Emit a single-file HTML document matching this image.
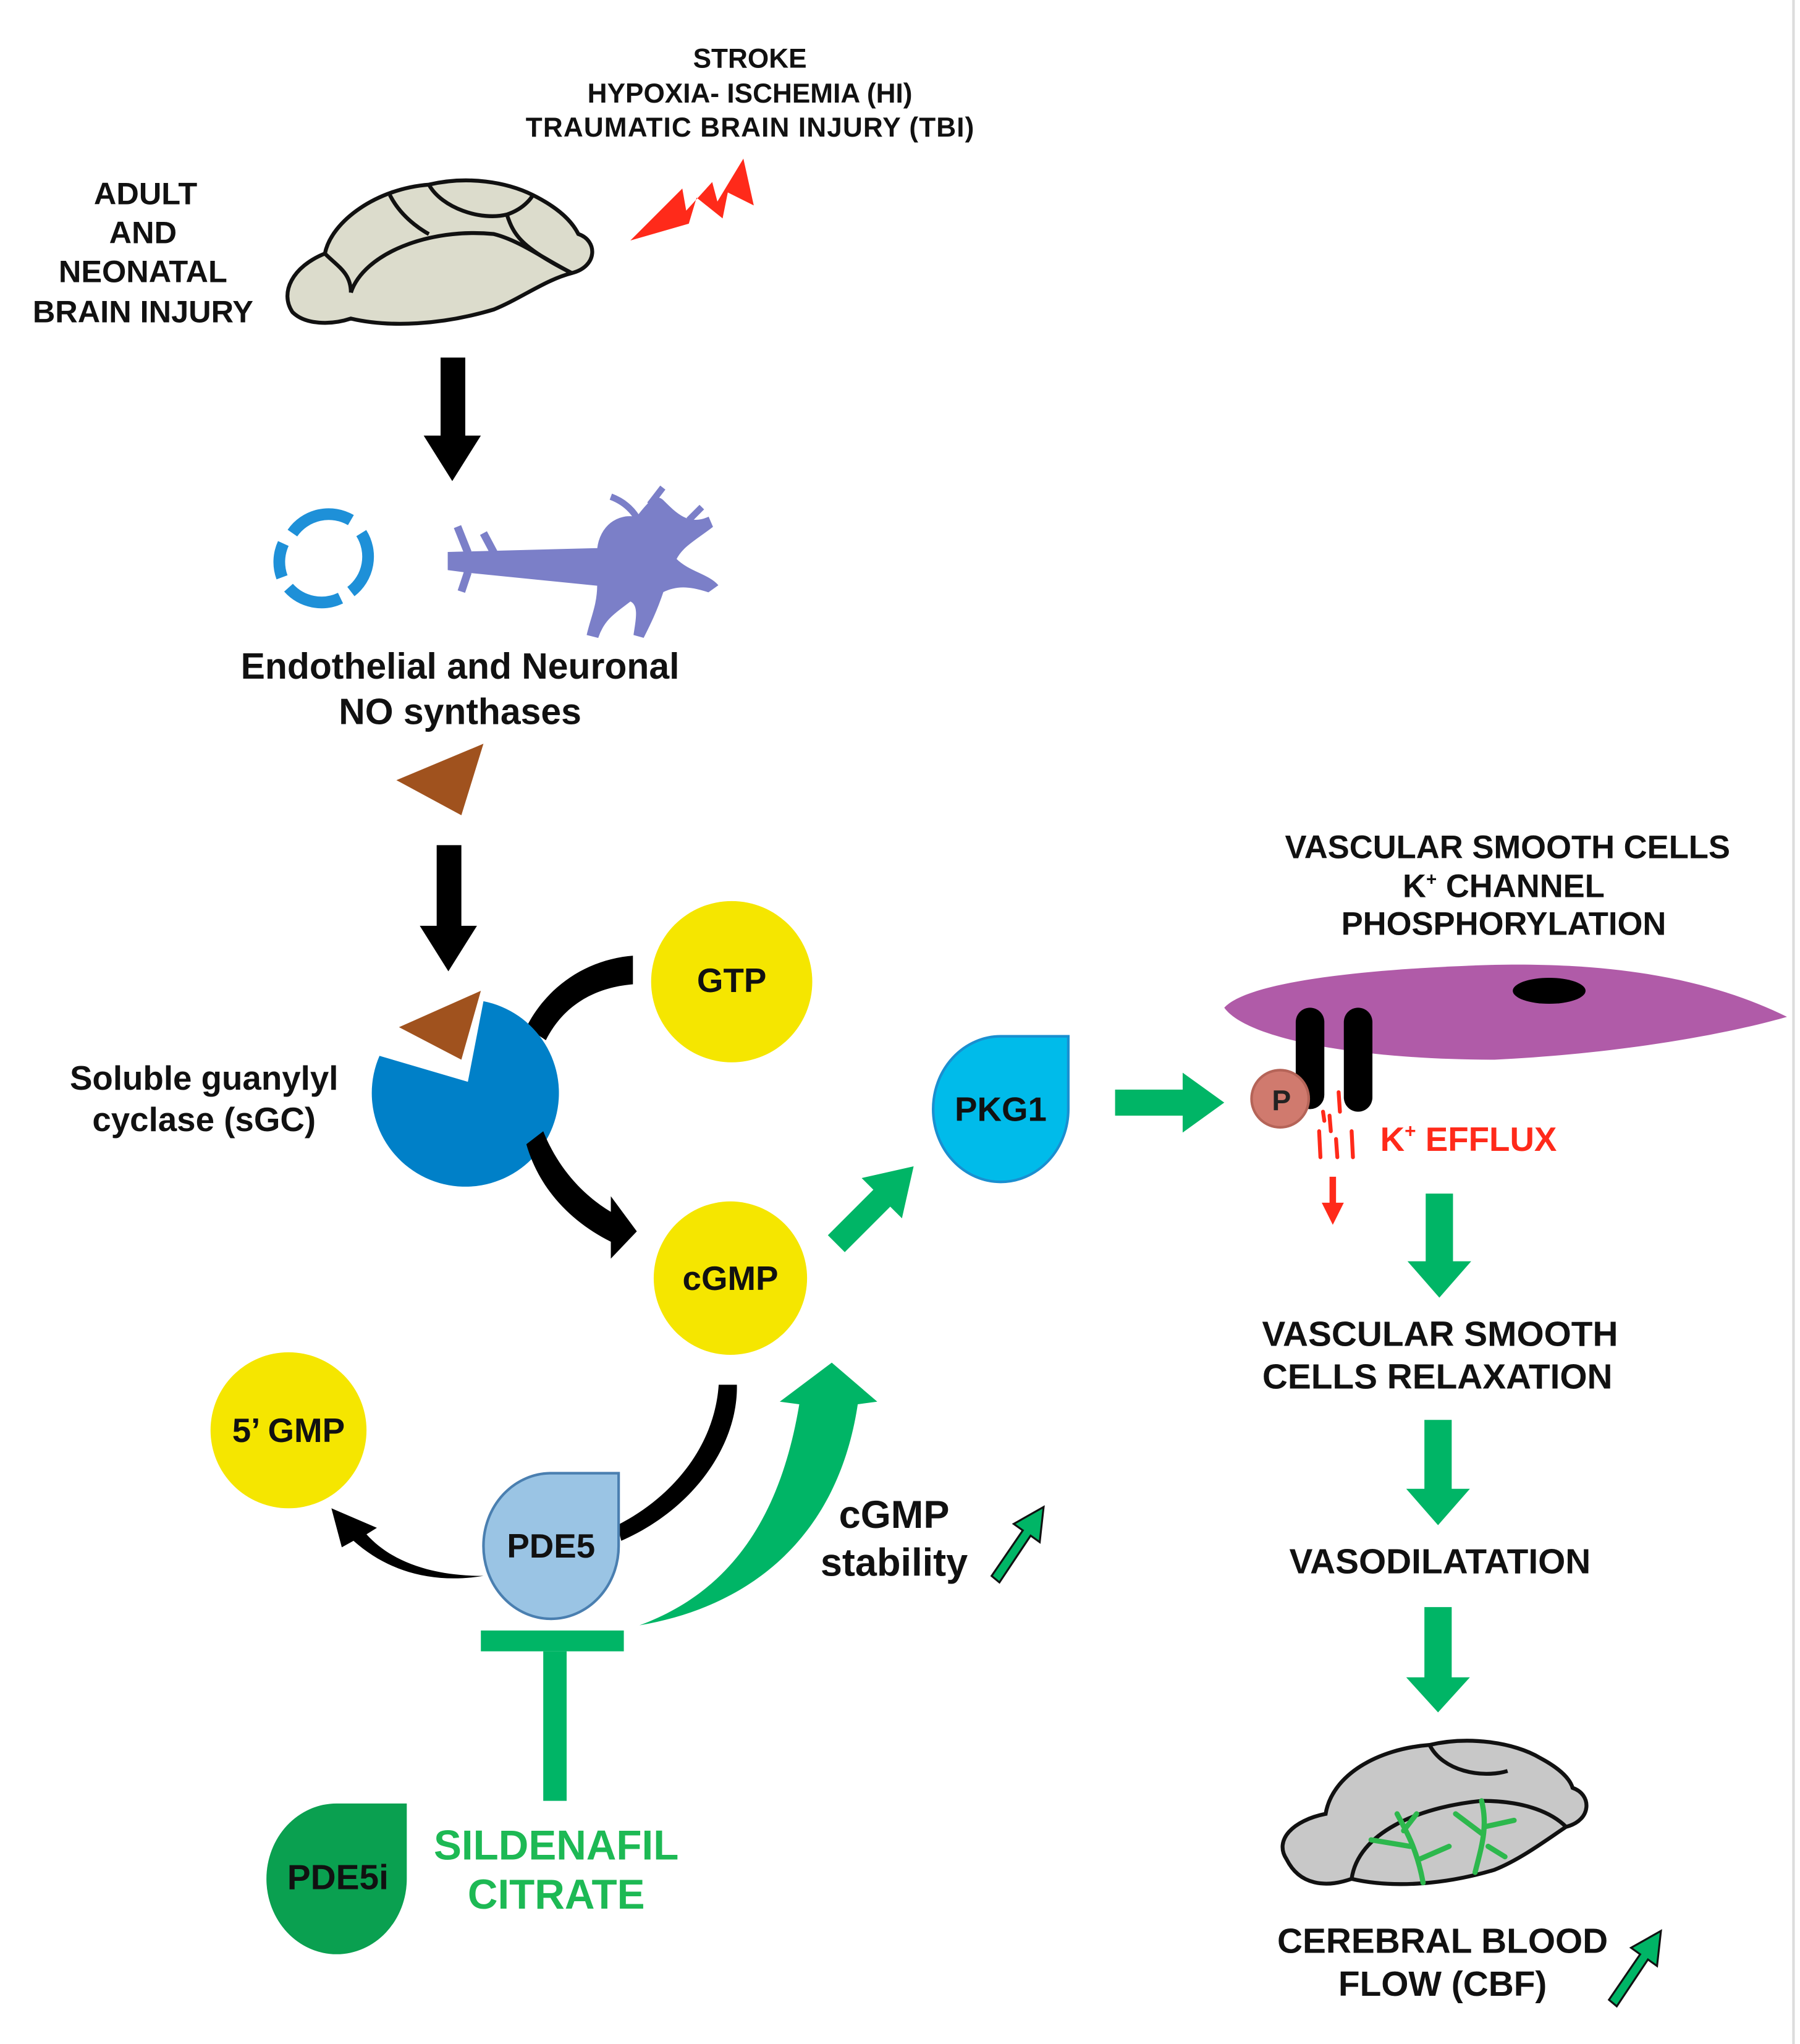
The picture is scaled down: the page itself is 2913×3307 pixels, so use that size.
<!DOCTYPE html>
<html><head><meta charset="utf-8"><style>
html,body{margin:0;padding:0;background:#fff;}
svg{display:block;}
text{font-family:"Liberation Sans",Arial,sans-serif;font-weight:bold;}
</style></head><body>
<svg width="2913" height="3307" viewBox="0 0 1385 1572" preserveAspectRatio="none" xmlns="http://www.w3.org/2000/svg">
<rect width="1385" height="1572" fill="#fff"/>
<line x1="1380" y1="0" x2="1380" y2="1572" stroke="#ddd" stroke-width="2"/>
<g font-size="21" text-anchor="middle" fill="#111">
<text x="577" y="52">STROKE</text>
<text x="577" y="79">HYPOXIA- ISCHEMIA (HI)</text>
<text x="577" y="105" textLength="345">TRAUMATIC BRAIN INJURY (TBI)</text>
</g>
<g font-size="24" text-anchor="middle" fill="#111">
<text x="112" y="157">ADULT</text>
<text x="110" y="187">AND</text>
<text x="110" y="217">NEONATAL</text>
<text x="110" y="248">BRAIN INJURY</text>
</g>
<g fill="#dcdccc" stroke="#111" stroke-width="3">
<path d="M225,240 C215,225 225,205 250,195 C255,170 290,145 330,142 C360,135 390,140 410,150 C430,160 440,170 445,180 C460,185 460,205 440,210 C420,215 400,230 380,238 C340,250 300,252 270,245 C255,250 235,250 225,240 Z"/>
<path d="M250,195 C260,205 270,210 270,225" fill="none"/>
<path d="M270,225 C280,195 330,175 380,180 C400,185 420,200 440,210" fill="none"/>
<path d="M330,142 C340,160 370,170 390,165 C405,160 410,150 410,150" fill="none"/>
<path d="M390,165 C395,180 400,190 440,210" fill="none"/>
<path d="M300,150 C310,170 330,180 330,180" fill="none"/>
</g>
<path d="M485,185 L525,145 L528,162 L548,140 L552,155 L572,122 L580,158 L560,148 L556,168 L536,152 L530,172 Z" fill="#ff2a1a"/>
<path d="M339,275 H358 V335 H370 L348,370 L326,335 H339 Z" fill="#000"/>
<g fill="none" stroke="#1e90d8" stroke-width="9">
<path d="M225,410 A34,34 0 0 1 270,400"/>
<path d="M278,410 A34,34 0 0 1 270,455"/>
<path d="M262,460 A34,34 0 0 1 222,452"/>
<path d="M217,444 A34,34 0 0 1 218,418"/>
</g>
<g fill="#7b7fc8" stroke="#7b7fc8">
<path d="M345,425 L460,422 C462,405 475,395 490,398 C500,385 505,380 510,385 C520,395 530,405 545,398 L548,405 C535,415 525,420 520,430 C530,440 545,442 552,450 L545,455 C530,450 520,450 510,455 C505,470 500,480 495,490 L488,488 C490,475 492,465 485,462 C475,470 465,475 460,490 L452,488 C455,475 460,465 460,450 L360,440 L345,438 Z"/>
<path d="M360,425 L352,405 M380,425 L372,410 M360,440 L355,455" stroke-width="6" fill="none"/>
<path d="M490,398 C485,390 478,385 470,382 M500,388 L510,375 M530,400 L540,390" stroke-width="5" fill="none"/>
</g>
<g font-size="28" text-anchor="middle" fill="#111">
<text x="354" y="522">Endothelial and Neuronal</text>
<text x="354" y="557">NO synthases</text>
</g>
<path d="M305,600 L372,572 L355,627 Z" fill="#a0521e"/>
<path d="M336,650 H355 V712 H367 L345,747 L323,712 H336 Z" fill="#000"/>
<path d="M487,735 L487,757 C450,760 430,780 420,800 L405,790 C420,760 450,738 487,735 Z" fill="#000"/>
<path d="M360,832 L372,770 A72,72 0 1 1 292,812 Z" fill="#0080c8"/>
<path d="M307,790 L370,762 L355,815 Z" fill="#a0521e"/>
<path d="M405,880 L418,870 C430,900 450,920 470,932 L470,920 L490,947 L470,968 L470,955 C440,940 415,915 405,880 Z" fill="#000"/>
<g font-size="26" text-anchor="middle" fill="#111">
<text x="157" y="838">Soluble guanylyl</text>
<text x="157" y="870">cyclase (sGC)</text>
</g>
<circle cx="563" cy="755" r="62" fill="#f5e600"/>
<circle cx="562" cy="983" r="59" fill="#f5e600"/>
<circle cx="222" cy="1100" r="60" fill="#f5e600"/>
<g font-size="26" text-anchor="middle" fill="#111">
<text x="563" y="763">GTP</text>
<text x="562" y="992">cGMP</text>
<text x="222" y="1109">5’ GMP</text>
</g>
<path d="M718,853 A52,56 0 0 1 770,797 L822,797 L822,853 A52,56 0 0 1 718,853 Z" fill="#00bbea" stroke="#1a8fd0" stroke-width="2"/>
<text x="770" y="862" font-size="26" text-anchor="middle" fill="#111">PKG1</text>
<path d="M637,950 L672,915 L663,906 L703,897 L694,937 L685,928 L650,963 Z" fill="#00b566"/>
<path d="M858,838 H910 V825 L942,848 L910,871 V858 H858 Z" fill="#00b566"/>
<path d="M942,775 C960,755 1050,745 1150,742 C1250,740 1320,755 1375,782 C1330,795 1250,810 1150,815 C1050,815 960,800 942,775 Z" fill="#b05ba8"/>
<ellipse cx="1192" cy="762" rx="28" ry="10" fill="#000"/>
<rect x="997" y="775" width="22" height="78" rx="11" fill="#000"/>
<rect x="1034" y="775" width="22" height="80" rx="11" fill="#000"/>
<circle cx="985" cy="845" r="22" fill="#d07a6e" stroke="#b56458" stroke-width="2"/>
<text x="986" y="854" font-size="22" text-anchor="middle" fill="#222" font-weight="normal">P</text>
<g stroke="#ff2a1a" stroke-width="3" stroke-linecap="round">
<line x1="1015" y1="870" x2="1016" y2="890"/><line x1="1023" y1="858" x2="1024" y2="870"/>
<line x1="1030" y1="840" x2="1031" y2="855"/><line x1="1028" y1="876" x2="1029" y2="890"/>
<line x1="1040" y1="870" x2="1041" y2="890"/><line x1="1018" y1="855" x2="1019" y2="862"/>
</g>
<path d="M1023,905 H1028 V925 H1034 L1025.5,942 L1017,925 H1023 Z" fill="#ff2a1a"/>
<text x="1062" y="885" font-size="26" fill="#ff2a1a">K<tspan font-size="15" dy="-10">+</tspan><tspan dy="10"> EFFLUX</tspan></text>
<g font-size="25" text-anchor="middle" fill="#111">
<text x="1160" y="660">VASCULAR SMOOTH CELLS</text>
<text x="1157" y="690">K<tspan font-size="14" dy="-9">+</tspan><tspan dy="9"> CHANNEL</tspan></text>
<text x="1157" y="719">PHOSPHORYLATION</text>
</g>
<g fill="#00b566">
<path d="M1097,918 H1118 V970 H1132 L1107.5,998 L1083,970 H1097 Z"/>
<path d="M1096,1092 H1117 V1145 H1131 L1106.5,1173 L1082,1145 H1096 Z"/>
<path d="M1096,1236 H1117 V1290 H1131 L1106.5,1317 L1082,1290 H1096 Z"/>
</g>
<g font-size="27" text-anchor="middle" fill="#111">
<text x="1108" y="1035">VASCULAR SMOOTH</text>
<text x="1106" y="1068">CELLS RELAXATION</text>
<text x="1108" y="1210">VASODILATATION</text>
<text x="1110" y="1502">CEREBRAL BLOOD</text>
<text x="1110" y="1535">FLOW (CBF)</text>
</g>
<g fill="#c8c8c8" stroke="#111" stroke-width="3">
<path d="M990,1430 C980,1415 995,1400 1020,1395 C1025,1365 1060,1345 1100,1342 C1130,1335 1165,1340 1185,1352 C1200,1360 1208,1368 1210,1375 C1225,1380 1225,1400 1205,1405 C1190,1415 1170,1430 1150,1438 C1110,1450 1070,1452 1040,1445 C1020,1452 1000,1450 990,1430 Z"/>
<path d="M1040,1445 C1045,1410 1090,1390 1140,1385 C1175,1385 1195,1395 1205,1405" fill="none"/>
<path d="M1100,1342 C1110,1362 1140,1368 1160,1362" fill="none"/>
</g>
<g stroke="#2db84d" stroke-width="4" fill="none" stroke-linecap="round">
<path d="M1095,1448 C1090,1420 1080,1405 1075,1395 M1085,1420 L1055,1415 M1092,1430 L1115,1420 M1080,1408 L1090,1395"/>
<path d="M1135,1440 C1140,1420 1145,1405 1140,1385 M1140,1410 L1120,1395 M1142,1405 L1165,1400 M1145,1420 L1158,1428"/>
</g>
<path d="M1238,1538 L1262,1503 L1255,1498 L1278,1485 L1275,1512 L1268,1507 L1244,1543 Z" fill="#00b566" stroke="#111" stroke-width="1.5"/>
<path d="M763,1212 L787,1177 L780,1172 L803,1159 L800,1186 L793,1181 L769,1217 Z" fill="#00b566" stroke="#111" stroke-width="1.5"/>
<path d="M553,1065 L567,1065 C568,1110 535,1160 478,1185 L475,1173 C520,1150 550,1110 553,1065 Z" fill="#000"/>
<path d="M372,1212 C330,1212 300,1200 282,1180 L290,1175 L255,1160 L263,1190 L272,1185 C300,1210 335,1218 372,1212 Z" fill="#000"/>
<path d="M372,1189 A52,56 0 0 1 424,1133 L476,1133 L476,1189 A52,56 0 0 1 372,1189 Z" fill="#9ac4e4" stroke="#4a7fb0" stroke-width="2"/>
<text x="424" y="1198" font-size="26" text-anchor="middle" fill="#111">PDE5</text>
<rect x="370" y="1254" width="110" height="16" fill="#00b566"/>
<rect x="418" y="1270" width="18" height="115" fill="#00b566"/>
<path d="M492,1250 C560,1225 600,1170 615,1080 L600,1078 L640,1048 L675,1078 L660,1080 C645,1180 580,1235 492,1250 Z" fill="#00b566"/>
<g font-size="30" text-anchor="middle" fill="#111">
<text x="688" y="1175">cGMP</text>
<text x="688" y="1212">stability</text>
</g>
<path d="M205,1445 A54,58 0 0 1 259,1387 L313,1387 L313,1445 A54,58 0 0 1 205,1445 Z" fill="#0aa050"/>
<text x="260" y="1453" font-size="27" text-anchor="middle" fill="#111">PDE5i</text>
<g font-size="32" text-anchor="middle" fill="#1db954">
<text x="428" y="1430">SILDENAFIL</text>
<text x="428" y="1468">CITRATE</text>
</g>
</svg>
</body></html>
